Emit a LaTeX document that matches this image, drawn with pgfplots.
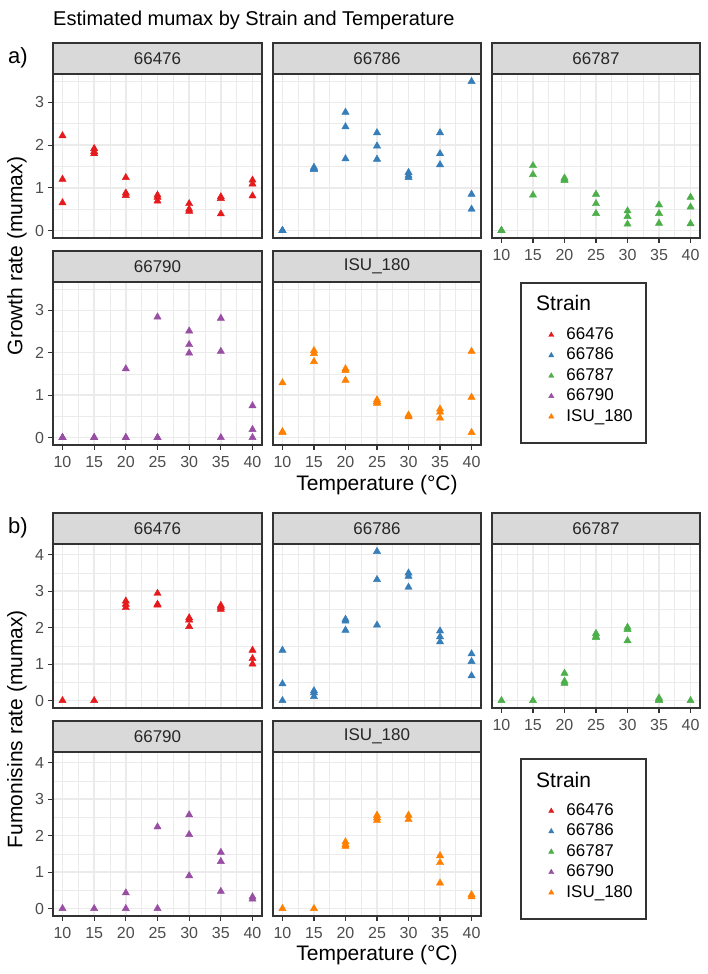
\documentclass[border=0pt]{standalone}
\usepackage{pgfplots}
\pgfplotsset{compat=1.18}
\usepackage{fontspec}
\setmainfont{Liberation Sans}

% Set1 palette, one colour per strain
\definecolor{sA}{HTML}{E41A1C}
\definecolor{sB}{HTML}{377EB8}
\definecolor{sC}{HTML}{4DAF4A}
\definecolor{sD}{HTML}{984EA3}
\definecolor{sE}{HTML}{FF7F00}
\definecolor{gridgray}{HTML}{EBEBEB}
\definecolor{stripfill}{HTML}{D9D9D9}
\definecolor{framegray}{HTML}{333333}
\definecolor{ticklab}{HTML}{4D4D4D}

\pgfplotsset{
  facet/.style={
    scale only axis, width=208pt, height=164pt,
    anchor=north west,
    xmin=8.5, xmax=41.5,
    xtick={10,15,...,40}, minor xtick={12.5,17.5,...,37.5},
    grid=both,
    major grid style={draw=gridgray, line width=1.4pt},
    minor grid style={draw=gridgray, line width=0.7pt},
    axis line style={draw=framegray, line width=1.1pt},
    tick style={draw=framegray, line width=1.1pt},
    major tick length=4.5pt, minor tick length=0pt,
    tick align=outside, xtick pos=lower, ytick pos=left,
    ticklabel style={font=\fontsize{16}{16}\selectfont, text=ticklab},
    xticklabel style={yshift=-3pt},
    yticklabel style={xshift=-1pt},
    /pgf/number format/assume math mode=true,
    clip=false,
    every axis plot/.append style={only marks, mark=triangle*, mark size=4.2pt},
  },
  ga/.style={ymin=-0.1745, ymax=3.6645, ytick={0,1,2,3}, minor ytick={0.5,1.5,2.5,3.5}},
  gb/.style={ymin=-0.2045, ymax=4.2945, ytick={0,1,2,3,4}, minor ytick={0.5,1.5,2.5,3.5}},
  noxlab/.style={xticklabels={}, major x tick style={draw=none}},
  noylab/.style={yticklabels={}, major y tick style={draw=none}},
  strainlegend/.style={
    legend image code/.code={\path (0pt,0pt) (12pt,0pt);
      \draw[##1, mark size=3pt] plot coordinates {(6pt,0pt)};},
    legend cell align=left,
    legend style={draw=none, fill=none, inner sep=0pt, outer sep=0pt,
      column sep=9pt, row sep=4.4pt, anchor=north west,
      font=\fontsize{17}{17}\selectfont,
      nodes={inner sep=0pt, text height=12.5pt, text depth=3.5pt}},
  },
}

\newcommand{\strip}[1]{%
  \draw[fill=stripfill, draw=framegray, line width=1.1pt]
    (rel axis cs:0,1) rectangle ([yshift=31pt]rel axis cs:1,1);
  \node[font=\fontsize{17}{17}\selectfont, text=black!85] at ([yshift=15.5pt]rel axis cs:0.5,1) {#1};}

\newcommand{\legendbox}{%
  \addlegendimage{only marks, mark=triangle*, sA}\addlegendentry{66476}
  \addlegendimage{only marks, mark=triangle*, sB}\addlegendentry{66786}
  \addlegendimage{only marks, mark=triangle*, sC}\addlegendentry{66787}
  \addlegendimage{only marks, mark=triangle*, sD}\addlegendentry{66790}
  \addlegendimage{only marks, mark=triangle*, sE}\addlegendentry{ISU\_180}}

\begin{document}
\begin{tikzpicture}
\useasboundingbox (0pt,0pt) rectangle (708pt,-974pt);

\node[anchor=base west, inner sep=0pt, font=\fontsize{20}{24}\selectfont]
  at (53pt,-26pt) {Estimated mumax by Strain and Temperature};
\node[anchor=west, inner sep=0pt, font=\fontsize{22}{24}\selectfont] at (8pt,-58pt) {a)};
\node[anchor=west, inner sep=0pt, font=\fontsize{22}{24}\selectfont] at (8pt,-528pt) {b)};
\node[rotate=90, inner sep=0pt, font=\fontsize{21}{24}\selectfont] at (17pt,-256pt) {Growth rate (mumax)};
\node[rotate=90, inner sep=0pt, font=\fontsize{21}{24}\selectfont] at (17pt,-729pt) {Fumonisins rate (mumax)};
\node[inner sep=0pt, font=\fontsize{21}{24}\selectfont] at (377pt,-485pt) {Temperature (°C)};
\node[inner sep=0pt, font=\fontsize{21}{24}\selectfont] at (377pt,-955pt) {Temperature (°C)};

% ---------------- a) growth rate ----------------
\begin{axis}[facet, ga, noxlab, at={(53pt,-74pt)}, width=209pt]
  \strip{66476}
  \addplot[sA] coordinates {(10,2.22)(10,1.20)(10,0.65)(15,1.92)(15,1.85)(15,1.80)
    (20,1.24)(20,0.88)(20,0.82)(25,0.83)(25,0.78)(25,0.69)(30,0.63)(30,0.50)(30,0.45)
    (35,0.79)(35,0.75)(35,0.39)(40,1.18)(40,1.09)(40,0.81)};
\end{axis}
\begin{axis}[facet, ga, noxlab, noylab, at={(273pt,-74pt)}]
  \strip{66786}
  \addplot[sB] coordinates {(10,0)(10,0)(10,0)(15,1.48)(15,1.45)(15,1.43)
    (20,2.77)(20,2.43)(20,1.68)(25,2.29)(25,1.98)(25,1.67)(30,1.36)(30,1.29)(30,1.24)
    (35,2.29)(35,1.80)(35,1.54)(40,3.49)(40,0.85)(40,0.50)};
\end{axis}
\begin{axis}[facet, ga, noylab, at={(492pt,-74pt)}]
  \strip{66787}
  \addplot[sC] coordinates {(10,0)(10,0)(10,0)(15,1.52)(15,1.31)(15,0.83)
    (20,1.23)(20,1.20)(20,1.17)(25,0.85)(25,0.63)(25,0.40)(30,0.46)(30,0.33)(30,0.15)
    (35,0.60)(35,0.40)(35,0.17)(40,0.78)(40,0.55)(40,0.16)};
\end{axis}
\begin{axis}[facet, ga, at={(53pt,-282pt)}, width=209pt, height=163pt]
  \strip{66790}
  \addplot[sD] coordinates {(10,0)(10,0)(10,0)(15,0)(15,0)(15,0)
    (20,1.62)(20,0)(20,0)(25,2.84)(25,0)(25,0)(30,2.51)(30,2.19)(30,1.99)
    (35,2.81)(35,2.03)(35,0)(40,0.75)(40,0.19)(40,0)};
\end{axis}
\begin{axis}[facet, ga, noylab, strainlegend, at={(273pt,-282pt)}, height=163pt,
    legend style={at={(1.308,0.724)}}]
  \strip{ISU\_180}
  \addplot[sE, forget plot] coordinates {(10,1.29)(10,0.14)(10,0.12)(15,2.05)(15,1.98)(15,1.79)
    (20,1.62)(20,1.58)(20,1.35)(25,0.89)(25,0.85)(25,0.81)(30,0.53)(30,0.51)(30,0.49)
    (35,0.67)(35,0.60)(35,0.46)(40,2.03)(40,0.95)(40,0.12)};
  \draw[draw=framegray, line width=1.1pt, fill=white]
    ([xshift=248pt,yshift=-1pt]rel axis cs:0,1) rectangle ([xshift=373pt,yshift=2pt]rel axis cs:0,0);
  \node[anchor=west, inner sep=0pt, font=\fontsize{21}{24}\selectfont]
    at ([xshift=263pt,yshift=-21pt]rel axis cs:0,1) {Strain};
  \legendbox
\end{axis}

% ---------------- b) fumonisins rate ----------------
\begin{axis}[facet, gb, noxlab, at={(53pt,-544pt)}, width=209pt]
  \strip{66476}
  \addplot[sA] coordinates {(10,0)(15,0)(20,2.73)(20,2.64)(20,2.55)
    (25,2.94)(25,2.64)(25,2.62)(30,2.27)(30,2.21)(30,2.03)(35,2.61)(35,2.56)(35,2.50)
    (40,1.38)(40,1.15)(40,1.00)};
\end{axis}
\begin{axis}[facet, gb, noxlab, noylab, at={(273pt,-544pt)}]
  \strip{66786}
  \addplot[sB] coordinates {(10,1.38)(10,0.46)(10,0)(15,0.27)(15,0.21)(15,0.11)
    (20,2.23)(20,2.18)(20,1.93)(25,4.09)(25,3.32)(25,2.07)(30,3.50)(30,3.41)(30,3.11)
    (35,1.91)(35,1.75)(35,1.61)(40,1.28)(40,1.07)(40,0.68)};
\end{axis}
\begin{axis}[facet, gb, noylab, at={(492pt,-544pt)}]
  \strip{66787}
  \addplot[sC] coordinates {(10,0)(15,0)(20,0.75)(20,0.53)(20,0.47)
    (25,1.84)(25,1.76)(25,1.73)(30,2.01)(30,1.95)(30,1.64)(35,0.07)(35,0.03)(35,0)(40,0)};
\end{axis}
\begin{axis}[facet, gb, at={(53pt,-752pt)}, width=209pt]
  \strip{66790}
  \addplot[sD] coordinates {(10,0)(15,0)(20,0.43)(20,0)(25,2.24)(25,0)
    (30,2.57)(30,2.03)(30,0.90)(35,1.54)(35,1.29)(35,0.47)(40,0.32)(40,0.26)};
\end{axis}
\begin{axis}[facet, gb, noylab, strainlegend, at={(273pt,-752pt)},
    legend style={at={(1.308,0.689)}}]
  \strip{ISU\_180}
  \addplot[sE, forget plot] coordinates {(10,0)(15,0)(20,1.83)(20,1.76)(20,1.71)
    (25,2.56)(25,2.49)(25,2.42)(30,2.56)(30,2.44)(35,1.45)(35,1.26)(35,0.70)(40,0.38)(40,0.32)};
  \draw[draw=framegray, line width=1.1pt, fill=white]
    ([xshift=248pt,yshift=-7pt]rel axis cs:0,1) rectangle ([xshift=373pt,yshift=-3pt]rel axis cs:0,0);
  \node[anchor=west, inner sep=0pt, font=\fontsize{21}{24}\selectfont]
    at ([xshift=263pt,yshift=-28pt]rel axis cs:0,1) {Strain};
  \legendbox
\end{axis}
\end{tikzpicture}
\end{document}
